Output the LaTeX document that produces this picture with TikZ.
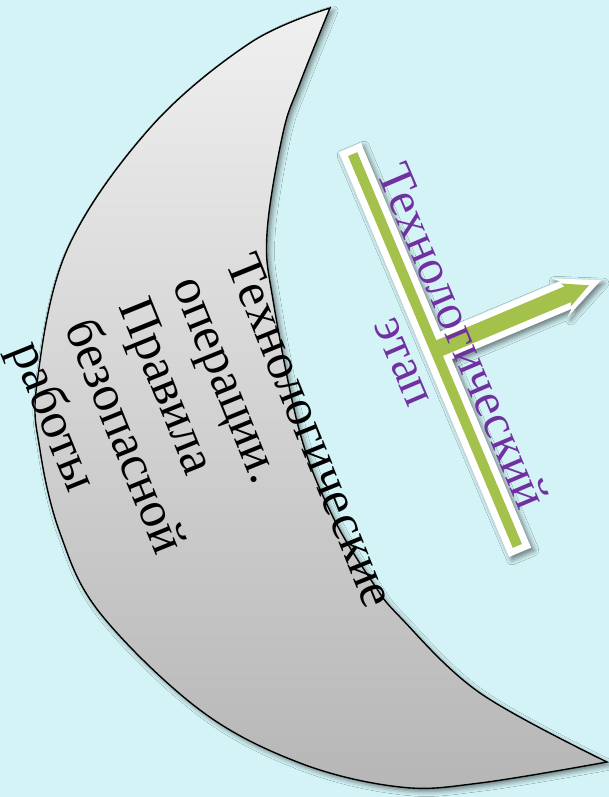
\documentclass[tikz,border=0pt]{standalone}
\usepackage{fontspec}
\setmainfont{Liberation Serif}
\usetikzlibrary{calc,shadows.blur}
\definecolor{bgc}{RGB}{211,243,246}
\definecolor{grn}{RGB}{164,193,76}
\definecolor{purp}{RGB}{112,48,160}
\definecolor{moontop}{RGB}{240,240,240}
\definecolor{moonbot}{RGB}{182,182,182}
\begin{document}
\begin{tikzpicture}[x=1pt,y=-1pt,
  shad/.style={blur shadow={shadow xshift=3pt,shadow yshift=-3pt,shadow blur radius=5pt,shadow opacity=50}},
  moon/.style={draw=black, line width=1.4pt, top color=moontop, bottom color=moonbot},
  moonlabel/.style={font=\fontsize{51}{58}\selectfont, text=black, inner sep=0pt, align=left},
  stagelabel/.style={font=\fontsize{49.5}{62}\selectfont, text=purp, inner sep=0pt, align=center}]
\useasboundingbox (0,0) rectangle (609,797);
\fill[bgc] (0,0) rectangle (609,797);
% crescent
\path[moon, shad] plot[smooth, tension=0.6] coordinates {(330,8) (250,43) (150,128) (67,250) (37,383) (40,450) (60,533) (100,613) (200,710) (300,763) (400,787) (480,783) (607,762)}
  -- plot[smooth, tension=0.6] coordinates {(607,762) (480,693) (400,617) (373,583) (333,517) (300,433) (273,300) (267,233) (283,133) (300,83) (330,8)} -- cycle;
\node[moonlabel, rotate=-68, anchor=north west] (moontext) at (257,250)
  {Технологические\\операции.\\Правила\\безопасной\\работы};
% bar and arrow
\coordinate (C) at (435,350);
\begin{scope}[shift={(C)}, rotate=-67.2]
  \path[shad] (-219.5,-12) rectangle (219.5,12);
\end{scope}
\begin{scope}[shift={(C)}, rotate=22.8]
  \path[shad] (0,-15) -- (142,-15) -- (135,-21) -- (180,0) -- (135,21) -- (142,15) -- (0,15) -- cycle;
\end{scope}
\begin{scope}[shift={(C)}, rotate=-67.2]
  \fill[white] (-219.5,-12) rectangle (219.5,12);
\end{scope}
\begin{scope}[shift={(C)}, rotate=22.8]
  \fill[white] (0,-15) -- (142,-15) -- (135,-21) -- (180,0) -- (135,21) -- (142,15) -- (0,15) -- cycle;
\end{scope}
\begin{scope}[shift={(C)}, rotate=-67.2]
  \fill[grn] (-212.5,-5) rectangle (212.5,5);
\end{scope}
\begin{scope}[shift={(C)}, rotate=22.8]
  \fill[grn] (0,-8.5) -- (144,-8.5) -- (142,-12.5) -- (167,0) -- (142,12.5) -- (144,8.5) -- (0,8.5) -- cycle;
\end{scope}
\node[stagelabel, rotate=-67] (stagetext) at (435,348) {Технологический\\этап};
\end{tikzpicture}
\end{document}
